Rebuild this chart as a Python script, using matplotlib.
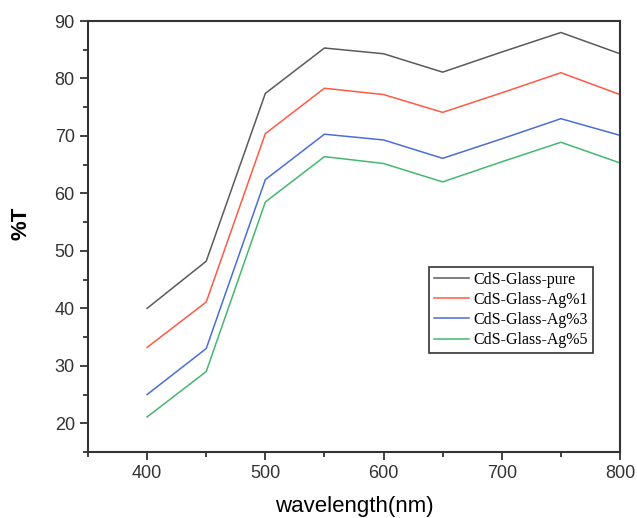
import numpy as np
import matplotlib.pyplot as plt
from matplotlib.ticker import MultipleLocator

# Transmittance spectra
wavelength = [400, 450, 500, 550, 600, 650, 700, 750, 800]
pure = [40.0, 48.2, 77.4, 85.3, 84.3, 81.1, 84.6, 88.0, 84.3]
ag1 = [33.2, 41.1, 70.4, 78.3, 77.2, 74.1, 77.5, 81.0, 77.2]
ag3 = [25.0, 33.0, 62.4, 70.3, 69.3, 66.1, 69.5, 73.0, 70.1]
ag5 = [21.1, 29.0, 58.5, 66.4, 65.2, 62.0, 65.5, 68.9, 65.3]

labels = ["CdS-Glass-pure", "CdS-Glass-Ag%1", "CdS-Glass-Ag%3", "CdS-Glass-Ag%5"]
colors = ["#5a5a5a", "#ff5a45", "#4a6ed6", "#45b86e"]

plt.rcParams["font.family"] = ["Liberation Sans", "DejaVu Sans"]

fig = plt.figure(figsize=(6.37, 5.18), dpi=100)
ax = fig.add_axes([88 / 637, 1 - 452 / 518, 532 / 637, 431 / 518])

for y, lab, c in zip([pure, ag1, ag3, ag5], labels, colors):
    ax.plot(wavelength, y, color=c, linewidth=1.1, label=lab)

ax.set_xlim(350, 800)
ax.set_ylim(15, 90)
ax.xaxis.set_major_locator(MultipleLocator(100))
ax.xaxis.set_minor_locator(MultipleLocator(50))
ax.yaxis.set_major_locator(MultipleLocator(10))
ax.yaxis.set_minor_locator(MultipleLocator(5))
ax.tick_params(which="both", direction="out", top=False, right=False,
               colors="#333333", labelsize=13, width=1.3)
ax.tick_params(which="major", length=6)
ax.tick_params(which="minor", length=3.5)
for s in ax.spines.values():
    s.set_linewidth(1.5)
    s.set_color("#333333")

ax.set_ylabel("%T", fontsize=16, fontweight="bold")
ax.yaxis.set_label_coords(-0.107, 0.53)
ax.set_xlabel("wavelength(nm)", fontsize=16, labelpad=10)

leg = ax.legend(loc="upper left", bbox_to_anchor=(0.641, 0.43),
                prop={"family": "Liberation Serif", "size": 11.5},
                frameon=True, fancybox=False, edgecolor="black",
                handlelength=2.2, handletextpad=0.25, borderpad=0.32,
                labelspacing=0.26, borderaxespad=0)
leg.get_frame().set_linewidth(1.2)

plt.savefig("out.png", dpi=100)
